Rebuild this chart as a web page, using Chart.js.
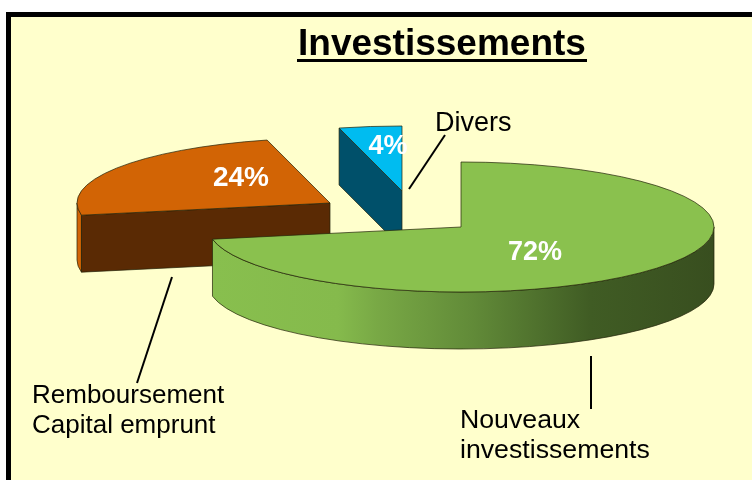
<!DOCTYPE html>
<html>
<head>
<meta charset="utf-8">
<title>Investissements</title>
<script src="https://cdn.jsdelivr.net/npm/chart.js@4"></script>
<style>
    html, body { margin: 0; padding: 0; background: #fff; }
    #frame { position: absolute; left: 6px; top: 12px; width: 746px; height: 468px; box-sizing: border-box;
             background: #ffffcc; border-left: 5px solid #000; border-top: 5px solid #000; }
    #chart { position: absolute; left: 0; top: 0; }
</style>
</head>
<body>
<div id="frame"></div>
<canvas id="chart" width="752" height="480"></canvas>
<script>
const titleText = 'Investissements';
const categories = ['Nouveaux investissements', 'Remboursement Capital emprunt', 'Divers'];
const values = [72, 24, 4];
const topColors = ['#8ac14e', '#d26405', '#00bcf0'];
const faceColors = [null, '#5a2a04', '#00506a'];

// --- Pie geometry (pixels on the page) ---
const radius = 253;
const squash = 65 / 253;
const depth = 57;
const centers = [[461, 227], [330, 203], [402, 191]];
const drawOrder = [1, 2, 0];
const edgeColor = 'rgba(35,35,10,0.7)';

// --- Texts ---
const percentLabels = [[535, 253, 27], [241, 178, 28], [388, 147, 27]];
const callouts = [
    { lines: ['Divers'], size: 27, x: 435, y: 131, from: [445, 135], to: [409, 189] },
    { lines: ['Remboursement', 'Capital emprunt'], size: 26, x: 32, y: 403, from: [172, 277], to: [137, 383] },
    { lines: ['Nouveaux', 'investissements'], size: 26.7, x: 460, y: 428, from: [591, 356], to: [591, 409] }
];

const sectorPath = (ctx, arc, cx, cy) => {
    ctx.beginPath();
    ctx.moveTo(cx, cy);
    ctx.ellipse(cx, cy, radius, radius * squash, 0, arc.startAngle, arc.endAngle);
    ctx.closePath();
};

const drawWalls = (ctx, arc, i, cx, cy) => {
    let rimFill = topColors[i];
    if (i === 0) {
        const g = ctx.createLinearGradient(212, 0, 716, 0);
        g.addColorStop(0, '#88bf4e');
        g.addColorStop(0.25, '#85ba4c');
        g.addColorStop(0.33, '#78a845');
        g.addColorStop(0.52, '#618a38');
        g.addColorStop(0.75, '#405c24');
        g.addColorStop(1, '#384e1f');
        rimFill = g;
    }
    ctx.strokeStyle = edgeColor;
    ctx.lineWidth = 1;

    // outer rim, only the part facing the viewer
    const rimStart = Math.max(arc.startAngle, 0);
    const rimEnd = Math.min(arc.endAngle, Math.PI);
    if (rimStart < rimEnd) {
        ctx.beginPath();
        ctx.ellipse(cx, cy, radius, radius * squash, 0, rimStart, rimEnd);
        ctx.ellipse(cx, cy + depth, radius, radius * squash, 0, rimEnd, rimStart, true);
        ctx.closePath();
        ctx.fillStyle = rimFill;
        ctx.fill();
        ctx.stroke();
    }

    // cut face
    if (faceColors[i]) {
        const ex = cx + radius * Math.cos(arc.startAngle);
        const ey = cy + radius * squash * Math.sin(arc.startAngle);
        ctx.beginPath();
        ctx.moveTo(cx, cy);
        ctx.lineTo(ex, ey);
        ctx.lineTo(ex, ey + depth);
        ctx.lineTo(cx, cy + depth);
        ctx.closePath();
        ctx.fillStyle = faceColors[i];
        ctx.fill();
        ctx.stroke();
    }
};

const pie3d = {
    id: 'pie3d',
    beforeDatasetsDraw(chart) {
        const ctx = chart.ctx;
        const arcs = chart.getDatasetMeta(0).data;

        drawOrder.forEach(i => {
            const arc = arcs[i];
            const [cx, cy] = centers[i];
            ctx.save();
            drawWalls(ctx, arc, i, cx, cy);

            // top of the slice, drawn by the arc element itself
            ctx.save();
            ctx.translate(cx, cy);
            ctx.scale(1, squash);
            ctx.translate(-arc.x, -arc.y);
            arc.draw(ctx);
            ctx.restore();

            sectorPath(ctx, arc, cx, cy);
            ctx.strokeStyle = edgeColor;
            ctx.lineWidth = 1;
            ctx.stroke();
            ctx.restore();
        });

        // percentages
        ctx.save();
        ctx.fillStyle = '#fff';
        ctx.textAlign = 'center';
        ctx.textBaseline = 'middle';
        values.forEach((v, i) => {
            const [x, y, size] = percentLabels[i];
            ctx.font = 'bold ' + size + 'px "Liberation Sans"';
            ctx.fillText(v + '%', x, y);
        });
        ctx.restore();

        // callouts
        ctx.save();
        ctx.fillStyle = '#000';
        ctx.strokeStyle = '#000';
        ctx.lineWidth = 2;
        ctx.textBaseline = 'alphabetic';
        callouts.forEach(c => {
            ctx.font = c.size + 'px "Liberation Sans"';
            c.lines.forEach((line, n) => ctx.fillText(line, c.x, c.y + n * 29.5));
            ctx.beginPath();
            ctx.moveTo(c.from[0], c.from[1]);
            ctx.lineTo(c.to[0], c.to[1]);
            ctx.stroke();
        });

        // underlined title
        ctx.font = 'bold 37px "Liberation Sans"';
        ctx.fillText(titleText, 298, 55);
        ctx.fillRect(297, 59, 290, 3);
        ctx.restore();

        return false;
    }
};

document.addEventListener('DOMContentLoaded', () => {
    new Chart(document.getElementById('chart').getContext('2d'), {
        type: 'pie',
        data: {
            labels: categories,
            datasets: [{
                data: values,
                backgroundColor: topColors,
                borderWidth: 0,
                radius: radius
            }]
        },
        options: {
            responsive: false,
            animation: false,
            layout: { padding: 0 },
            plugins: { legend: { display: false }, tooltip: { enabled: false } }
        },
        plugins: [pie3d]
    });
});
</script>
</body>
</html>
